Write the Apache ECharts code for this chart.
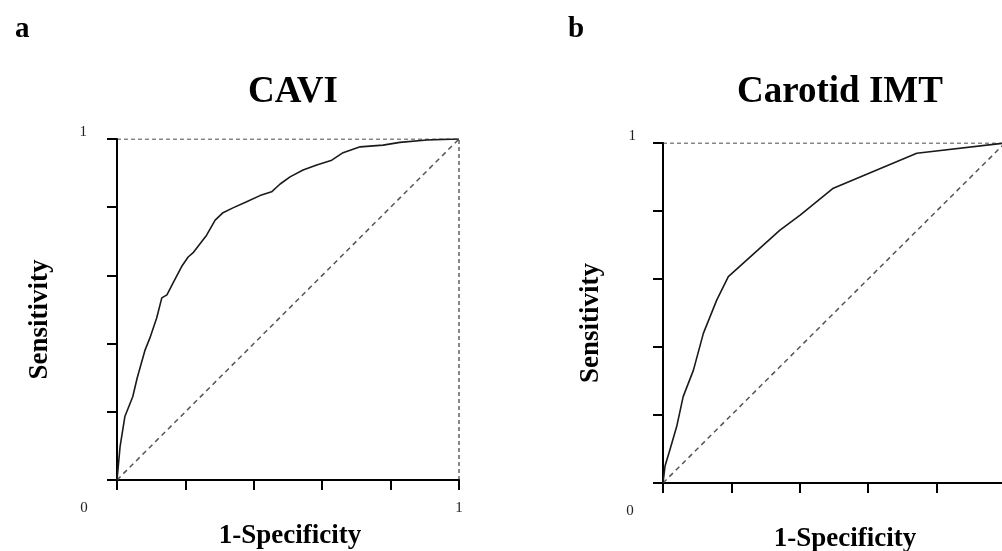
<!DOCTYPE html>
<html>
<head>
<meta charset="utf-8">
<script src="https://cdn.jsdelivr.net/npm/echarts@6/dist/echarts.min.js"></script>
<style>
  html, body { margin: 0; padding: 0; background: #fff; }
  #chart { width: 1002px; height: 551px; }
</style>
</head>
<body>
<div id="chart"></div>
<script>
  var serif = "'Liberation Serif', 'Times New Roman', serif";

  // ROC curve points
  var caviFpr = [0, 0.009, 0.023, 0.046, 0.059, 0.082, 0.096, 0.116, 0.131, 0.146, 0.164, 0.189, 0.208, 0.222,
                 0.262, 0.287, 0.310, 0.339, 0.379, 0.418, 0.452, 0.477, 0.506, 0.544, 0.584, 0.628, 0.661,
                 0.711, 0.778, 0.827, 0.906, 0.953, 1];
  var caviTpr = [0, 0.098, 0.186, 0.244, 0.299, 0.381, 0.416, 0.475, 0.534, 0.543, 0.578, 0.626, 0.654, 0.666,
                 0.718, 0.762, 0.784, 0.798, 0.816, 0.834, 0.845, 0.868, 0.889, 0.909, 0.924, 0.938, 0.960,
                 0.977, 0.982, 0.990, 0.997, 0.999, 1];

  var imtFpr = [0, 0.006, 0.020, 0.040, 0.059, 0.089, 0.118, 0.157, 0.191, 0.342, 0.401, 0.498, 0.742, 1];
  var imtTpr = [0, 0.050, 0.097, 0.166, 0.254, 0.332, 0.440, 0.538, 0.607, 0.744, 0.788, 0.867, 0.970, 1];

  var diagX = [0, 1], diagY = [0, 1];
  var frameX = [0, 1, 1], frameY = [1, 1, 0];
  var tickStep = 0.2;

  var panels = [
    { letter: 'a', title: 'CAVI', fpr: caviFpr, tpr: caviTpr,
      grid: { left: 117, top: 139, width: 342, height: 341 }, titleX: 288, letterX: 10 },
    { letter: 'b', title: 'Carotid IMT', fpr: imtFpr, tpr: imtTpr,
      grid: { left: 663, top: 143, width: 342, height: 340 }, titleX: 835, letterX: 563 }
  ];

  function zip(xs, ys) {
    return xs.map(function(x, i) { return [x, ys[i]]; });
  }

  var axisLine = { lineStyle: { color: '#000', width: 2 } };
  var axisTick = { inside: false, length: 10, lineStyle: { color: '#000', width: 2 } };
  var labelFont = { fontFamily: serif, fontSize: 15, color: '#222' };

  var option = { animation: false, backgroundColor: '#fff', title: [], grid: [], xAxis: [], yAxis: [], series: [] };

  panels.forEach(function(p, i) {
    option.title.push({
      text: p.letter, left: p.letterX, top: 10,
      textStyle: { fontFamily: serif, fontWeight: 'bold', fontSize: 29, color: '#000' }
    });
    option.title.push({
      text: p.title, left: p.titleX, top: 69, textAlign: 'center',
      textStyle: { fontFamily: serif, fontWeight: 'bold', fontSize: 37, color: '#000' }
    });
    option.grid.push(Object.assign({ outerBoundsMode: 'none', containLabel: false }, p.grid));
    option.xAxis.push({
      type: 'value', gridIndex: i, min: 0, max: 1, interval: tickStep,
      axisLine: axisLine, axisTick: axisTick, splitLine: { show: false },
      name: '1-Specificity', nameLocation: 'middle', nameGap: 43,
      nameTextStyle: { fontFamily: serif, fontWeight: 'bold', fontSize: 27, color: '#000',
                       padding: i === 0 ? [0, 0, 0, 4] : [0, 0, 0, 22] },
      axisLabel: Object.assign({
        margin: 21, showMinLabel: true, showMaxLabel: true,
        formatter: function(v) {
          if (v === 0) return '{z|0}';
          if (v === 1) return '1';
          return '';
        },
        rich: { z: Object.assign({ padding: [0, 66, 0, 0] }, labelFont) }
      }, labelFont)
    });
    option.yAxis.push({
      type: 'value', gridIndex: i, min: 0, max: 1, interval: tickStep,
      axisLine: axisLine, axisTick: axisTick, splitLine: { show: false },
      name: 'Sensitivity', nameLocation: 'middle', nameRotate: 90, nameGap: i === 0 ? 63 : 58,
      nameTextStyle: { fontFamily: serif, fontWeight: 'bold', fontSize: 27, color: '#000',
                       padding: [0, 20, 0, 0] },
      axisLabel: Object.assign({
        margin: i === 0 ? 30 : 27,
        formatter: function(v) { return v === 1 ? '{o|1}' : ''; },
        rich: { o: Object.assign({ padding: [0, 0, 14, 0] }, labelFont) }
      }, labelFont)
    });
    option.series.push({
      type: 'line', xAxisIndex: i, yAxisIndex: i, data: zip(frameX, frameY),
      showSymbol: false, silent: true,
      lineStyle: { color: '#111', width: 1, type: [4, 3] }
    });
    option.series.push({
      type: 'line', xAxisIndex: i, yAxisIndex: i, data: zip(diagX, diagY),
      showSymbol: false, silent: true,
      lineStyle: { color: '#555', width: 1.5, type: [5, 4] }
    });
    option.series.push({
      type: 'line', xAxisIndex: i, yAxisIndex: i, data: zip(p.fpr, p.tpr),
      showSymbol: false, silent: true,
      lineStyle: { color: '#1a1a1a', width: 1.6 }
    });
  });

  var chart = echarts.init(document.getElementById('chart'));
  chart.setOption(option);
</script>
</body>
</html>
